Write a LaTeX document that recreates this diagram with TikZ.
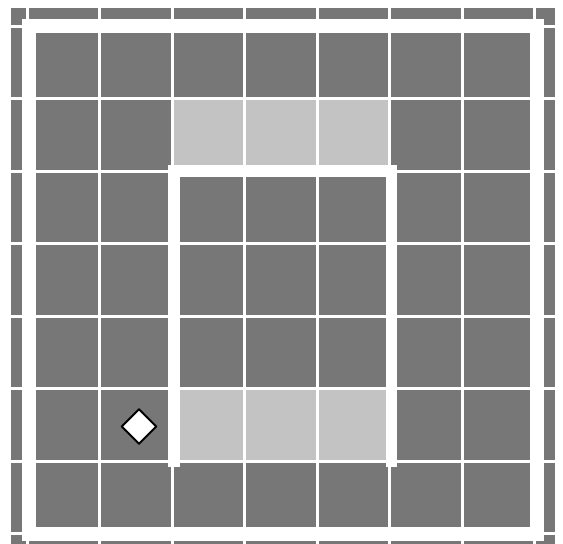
\documentclass[tikz,border=0pt]{standalone}
\definecolor{darkcell}{HTML}{777777}
\definecolor{lightcell}{HTML}{C3C3C3}
\tikzset{
  gridline/.style={white,line width=3pt},
  wallline/.style={white,line width=14pt,line join=miter},
  innerwall/.style={white,line width=11.5pt,line cap=rect,line join=miter},
  agent/.style={fill=white,draw=black,line width=2pt,line join=round}
}
\begin{document}
\begin{tikzpicture}[x=1pt,y=-1pt]
\useasboundingbox (0,0) rectangle (563,544);
\fill[white] (0,0) rectangle (563,544);
\fill[darkcell] (11,8) rectangle (555,544);
% light cells
\foreach \c in {2,3,4}{
  \fill[lightcell] ({27+72.5*\c},98.5) rectangle ({27+72.5*(\c+1)},171);
  \fill[lightcell] ({27+72.5*\c},388.5) rectangle ({27+72.5*(\c+1)},461);
}
% thin grid
\foreach \k in {0,...,7}{
  \draw[gridline] ({27+72.5*\k},8) -- ({27+72.5*\k},544);
  \draw[gridline] (11,{26+72.5*\k}) -- (555,{26+72.5*\k});
}
% outer wall
\draw[wallline] (29,26) rectangle (537,533.5);
% inner U wall
\draw[innerwall] (174,461) -- (174,171) -- (391.5,171) -- (391.5,461);
% agent diamond
\draw[agent] (139,409.2) -- (156.3,426.5) -- (139,443.8) -- (121.7,426.5) -- cycle;
\end{tikzpicture}
\end{document}
